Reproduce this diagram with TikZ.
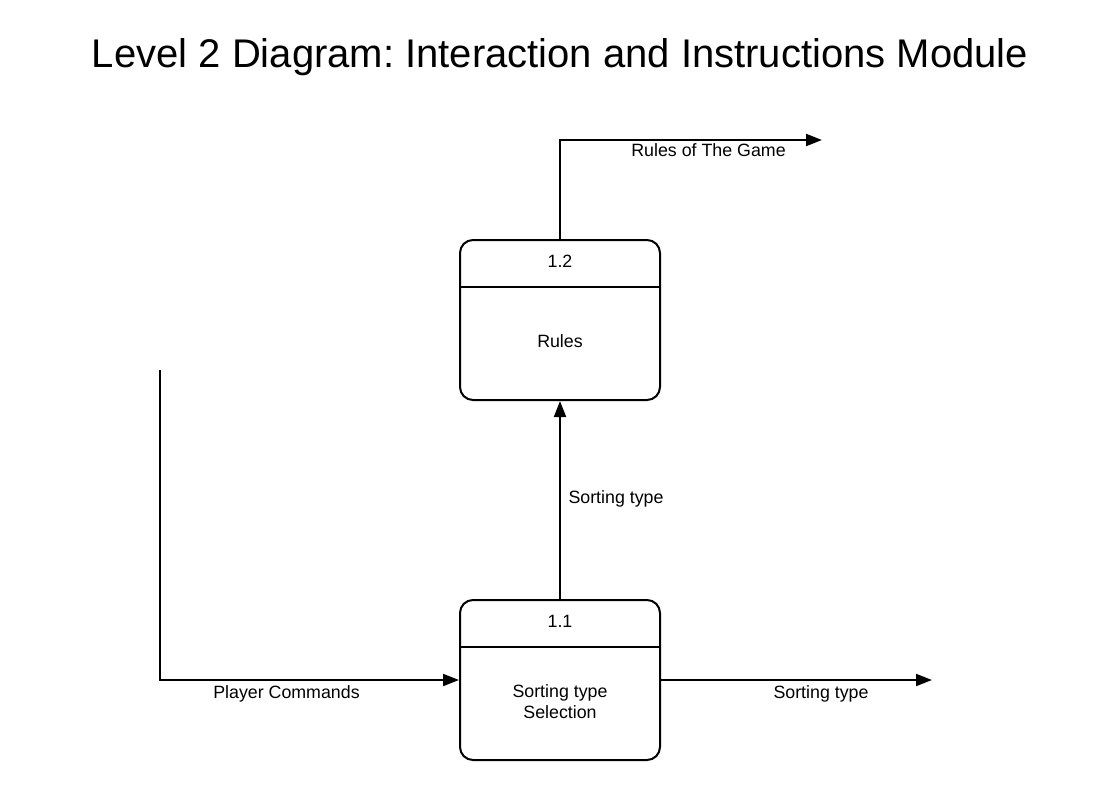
\documentclass[tikz,border=0pt]{standalone}
\usepackage{fontspec}
\setmainfont{Liberation Sans}
\usetikzlibrary{arrows.meta}
\frenchspacing
\begin{document}
\begin{tikzpicture}[x=1pt,y=-1pt,
  proc/.style={draw, line width=2pt, rounded corners=13pt, minimum width=200pt, minimum height=160pt, inner sep=0pt},
  divider/.style={line width=2pt},
  flow/.style={line width=2pt, -{Triangle[length=16pt,width=12pt]}},
  lbl/.style={font=\fontsize{17.8}{21}\selectfont, anchor=base, inner sep=0pt},
  ttl/.style={font=\fontsize{40}{48}\selectfont, anchor=base, inner sep=0pt}]
\useasboundingbox (0,0) rectangle (1120,800);
\node[ttl] (title) at (560,67) {Level 2 Diagram: Interaction and Instructions Module};
% processes
\node[proc] (p12) at (560,320) {};
\draw[divider] ([yshift=-48pt]p12.north west) -- ([yshift=-48pt]p12.north east);
\node[lbl] (n12) at (560,267) {1.2};
\node[lbl] (t12) at (560,347) {Rules};
\node[proc] (p11) at (560,680) {};
\draw[divider] ([yshift=-48pt]p11.north west) -- ([yshift=-48pt]p11.north east);
\node[lbl] (n11) at (560,627) {1.1};
\node[lbl] (t11a) at (560,697) {Sorting type};
\node[lbl] (t11b) at (560,718) {Selection};
% flows
\coordinate (rgEnd) at (822,140);
\draw[flow] (p12.north) |- (rgEnd);
\node[lbl] (lrg) at (708.5,157) {Rules of The Game};
\draw[flow] (p11.north) -- (p12.south);
\node[lbl] (lst1) at (616,503) {Sorting type};
\coordinate (pcStart) at (160,370);
\draw[flow] (pcStart) |- (p11.west);
\node[lbl] (lpc) at (286.5,698) {Player Commands};
\coordinate (stEnd) at (932,680);
\draw[flow] (p11.east) -- (stEnd);
\node[lbl] (lst2) at (821,698) {Sorting type};
\end{tikzpicture}
\end{document}
